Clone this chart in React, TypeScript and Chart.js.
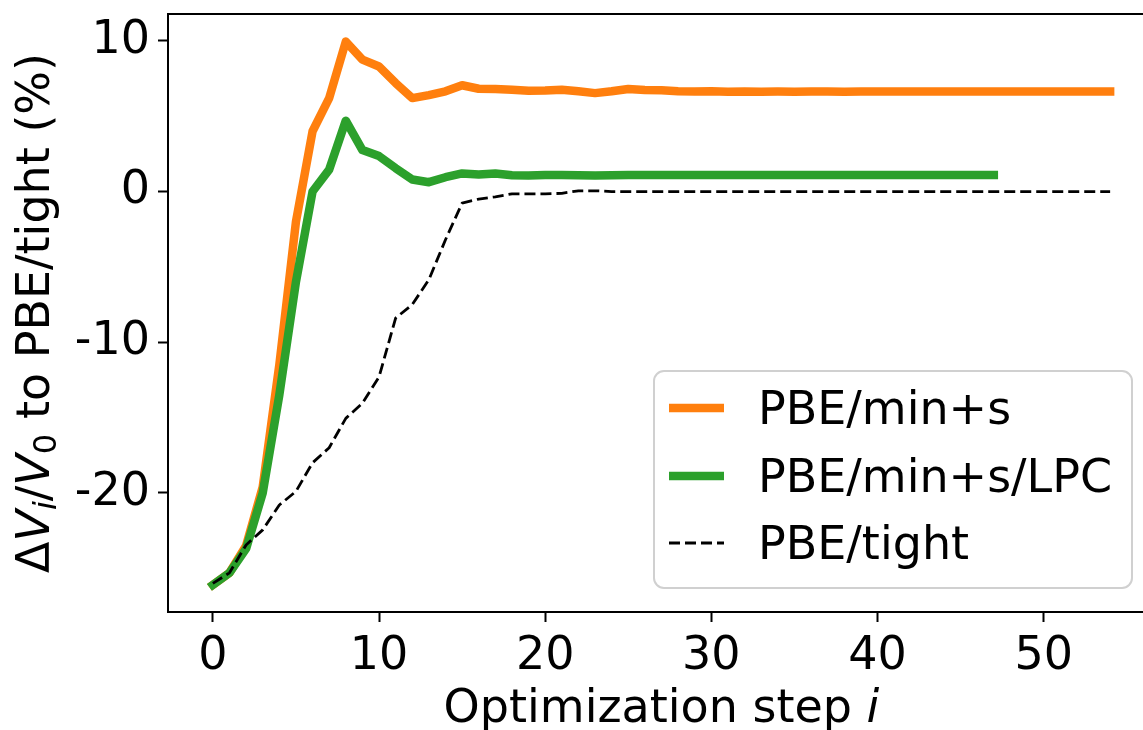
import React, { useEffect, useRef } from 'react';
import { Chart, registerables } from 'chart.js';

Chart.register(...registerables);

const FONT = '"DejaVu Sans", "Liberation Sans", sans-serif';
const FS = 46;

// Optimization steps (x values)
const steps = [
  0, 1, 2, 3, 4, 5, 6, 7, 8, 9, 10, 11, 12, 13, 14, 15, 16, 17, 18, 19,
  20, 21, 22, 23, 24, 25, 26, 27, 28, 29, 30, 31, 32, 33, 34, 35, 36, 37, 38, 39,
  40, 41, 42, 43, 44, 45, 46, 47, 48, 49, 50, 51, 52, 53, 54,
];

// PBE/min+s (55 points)
const minS = [
  -26.1, -25.3, -23.5, -19.6, -11.5, -2.0, 4.0, 6.2, 9.95, 8.75,
  8.3, 7.2, 6.2, 6.4, 6.65, 7.05, 6.82, 6.8, 6.75, 6.68,
  6.7, 6.75, 6.65, 6.53, 6.65, 6.8, 6.74, 6.72, 6.66, 6.64,
  6.66, 6.62, 6.64, 6.62, 6.63, 6.62, 6.63, 6.63, 6.62, 6.63,
  6.63, 6.63, 6.63, 6.63, 6.63, 6.63, 6.63, 6.63, 6.63, 6.63,
  6.63, 6.63, 6.63, 6.63, 6.63,
];

// PBE/min+s/LPC (48 points)
const minSLpc = [
  -26.1, -25.3, -23.7, -20.0, -13.5, -6.0, 0.0, 1.45, 4.7, 2.75,
  2.35, 1.55, 0.8, 0.62, 0.95, 1.2, 1.13, 1.2, 1.08, 1.06,
  1.1, 1.1, 1.08, 1.07, 1.08, 1.1, 1.09, 1.09, 1.09, 1.09,
  1.09, 1.09, 1.09, 1.09, 1.09, 1.09, 1.09, 1.09, 1.09, 1.09,
  1.09, 1.09, 1.09, 1.09, 1.09, 1.09, 1.09, 1.09,
];

// PBE/tight (55 points)
const tight = [
  -26.0, -25.3, -23.45, -22.45, -20.8, -19.9, -18.0, -17.0, -15.05, -14.05,
  -12.3, -8.4, -7.5, -5.85, -3.2, -0.77, -0.5, -0.35, -0.15, -0.15,
  -0.15, -0.12, 0.05, 0.05, 0.0, 0.0, 0.0, 0.0, 0.0, 0.0,
  0.0, 0.0, 0.0, 0.0, 0.0, 0.0, 0.0, 0.0, 0.0, 0.0,
  0.0, 0.0, 0.0, 0.0, 0.0, 0.0, 0.0, 0.0, 0.0, 0.0,
  0.0, 0.0, 0.0, 0.0, 0.0,
];

const xTicks = [0, 10, 20, 30, 40, 50];
const xTickLabels = ['0', '10', '20', '30', '40', '50'];
const yTicks = [-20, -10, 0, 10];
const yTickLabels = ['-20', '-10', '0', '10'];

const seriesLabels = ['PBE/min+s', 'PBE/min+s/LPC', 'PBE/tight'];
const seriesColors = ['#ff7f0e', '#2ca02c', '#000000'];

const xRange = [-2.7, 56.7];
const yRange = [-27.9, 11.78];

type Seg = { t: string; italic?: boolean; sub?: boolean };

function drawRich(ctx: CanvasRenderingContext2D, segs: Seg[], x: number, y: number) {
  const fontFor = (s: Seg) => `${s.italic ? 'italic ' : ''}${s.sub ? FS * 0.7 : FS}px ${FONT}`;
  let total = 0;
  for (const s of segs) {
    ctx.font = fontFor(s);
    total += ctx.measureText(s.t).width;
  }
  let cx = x - total / 2;
  ctx.textAlign = 'left';
  ctx.textBaseline = 'alphabetic';
  ctx.fillStyle = '#000';
  for (const s of segs) {
    ctx.font = fontFor(s);
    ctx.fillText(s.t, cx, y + (s.sub ? FS * 0.15 : 0));
    cx += ctx.measureText(s.t).width;
  }
}

const decorPlugin = {
  id: 'decor',
  afterDraw(chart: any) {
    const ctx: CanvasRenderingContext2D = chart.ctx;
    const a = chart.chartArea;
    ctx.save();
    // frame
    ctx.strokeStyle = '#000';
    ctx.lineWidth = 2;
    ctx.setLineDash([]);
    ctx.strokeRect(a.left, a.top, a.right - a.left, a.bottom - a.top);

    // x title
    drawRich(ctx, [{ t: 'Optimization step ' }, { t: 'i', italic: true }], (a.left + a.right) / 2, 722);

    // y title
    ctx.save();
    ctx.translate(49, (a.top + a.bottom) / 2);
    ctx.rotate(-Math.PI / 2);
    drawRich(
      ctx,
      [
        { t: 'Δ' },
        { t: 'V', italic: true },
        { t: 'i', italic: true, sub: true },
        { t: '/' },
        { t: 'V', italic: true },
        { t: '0', sub: true },
        { t: ' to PBE/tight (%)' },
      ],
      0,
      0
    );
    ctx.restore();

    // legend
    const L = 654, T = 371, R = 1132, B = 588;
    ctx.beginPath();
    (ctx as any).roundRect(L, T, R - L, B - T, 10);
    ctx.fillStyle = 'rgba(255,255,255,0.8)';
    ctx.fill();
    ctx.strokeStyle = '#d0d0d0';
    ctx.lineWidth = 2;
    ctx.stroke();
    const rows = [408, 476, 543];
    chart.data.datasets.forEach((ds: any, i: number) => {
      const y = rows[i];
      ctx.beginPath();
      ctx.strokeStyle = ds.borderColor;
      ctx.lineWidth = ds.borderWidth;
      ctx.setLineDash(ds.borderDash || []);
      ctx.lineCap = 'butt';
      ctx.moveTo(669, y);
      ctx.lineTo(724, y);
      ctx.stroke();
      ctx.setLineDash([]);
      ctx.font = `${FS}px ${FONT}`;
      ctx.fillStyle = '#000';
      ctx.textAlign = 'left';
      ctx.textBaseline = 'alphabetic';
      ctx.fillText(ds.label, 758, y + 16);
    });
    ctx.restore();
  },
};

export default function App() {
  const ref = useRef<HTMLCanvasElement | null>(null);

  useEffect(() => {
    if (!ref.current) return;
    const mk = (vals: number[]) => vals.map((v, i) => ({ x: steps[i], y: v }));
    const chart = new Chart(ref.current, {
      type: 'line',
      data: {
        datasets: [
          {
            label: seriesLabels[0],
            data: mk(minS),
            borderColor: seriesColors[0],
            backgroundColor: seriesColors[0],
            borderWidth: 8.5,
            pointRadius: 0,
            tension: 0,
            fill: false,
            borderJoinStyle: 'round',
            borderCapStyle: 'square',
            order: 3,
          },
          {
            label: seriesLabels[1],
            data: mk(minSLpc),
            borderColor: seriesColors[1],
            backgroundColor: seriesColors[1],
            borderWidth: 8.5,
            pointRadius: 0,
            tension: 0,
            fill: false,
            borderJoinStyle: 'round',
            borderCapStyle: 'square',
            order: 2,
          },
          {
            label: seriesLabels[2],
            data: mk(tight),
            borderColor: seriesColors[2],
            backgroundColor: seriesColors[2],
            borderWidth: 2.8,
            borderDash: [11, 5],
            pointRadius: 0,
            tension: 0,
            fill: false,
            borderJoinStyle: 'round',
            borderCapStyle: 'butt',
            order: 1,
          },
        ],
      },
      options: {
        responsive: false,
        animation: false,
        events: [],
        layout: { padding: { left: 0, top: 14, right: 15, bottom: 0 } },
        plugins: { legend: { display: false }, tooltip: { enabled: false }, title: { display: false } },
        scales: {
          x: {
            type: 'linear',
            min: xRange[0],
            max: xRange[1],
            afterFit: (s: any) => { s.height = 118; s.paddingLeft = 0; s.paddingRight = 0; },
            afterBuildTicks: (s: any) => { s.ticks = xTicks.map((v) => ({ value: v })); },
            border: { display: false },
            grid: { display: true, drawOnChartArea: false, drawTicks: true, tickLength: 10, tickWidth: 2, tickColor: '#000', color: '#000' },
            ticks: {
              color: '#000',
              font: { family: FONT, size: FS },
              padding: 7,
              maxRotation: 0,
              autoSkip: false,
              callback: (v: any) => { const k = xTicks.indexOf(Number(v)); return k >= 0 ? xTickLabels[k] : ''; },
            },
          },
          y: {
            type: 'linear',
            min: yRange[0],
            max: yRange[1],
            afterFit: (s: any) => { s.width = 168; s.paddingTop = 0; s.paddingBottom = 0; },
            afterBuildTicks: (s: any) => { s.ticks = yTicks.map((v) => ({ value: v })); },
            border: { display: false },
            grid: { display: true, drawOnChartArea: false, drawTicks: true, tickLength: 10, tickWidth: 2, tickColor: '#000', color: '#000' },
            ticks: {
              color: '#000',
              font: { family: FONT, size: FS },
              padding: 8,
              autoSkip: false,
              callback: (v: any) => { const k = yTicks.indexOf(Number(v)); return k >= 0 ? yTickLabels[k] : ''; },
            },
          },
        },
      },
      plugins: [decorPlugin],
    } as any);
    return () => chart.destroy();
  }, []);

  return (
    <div style={{ position: 'absolute', left: 0, top: 0, width: 1143, height: 730, overflow: 'hidden', background: '#fff' }}>
      <canvas ref={ref} width={1170} height={730} style={{ display: 'block', width: 1170, height: 730 }} />
    </div>
  );
}
